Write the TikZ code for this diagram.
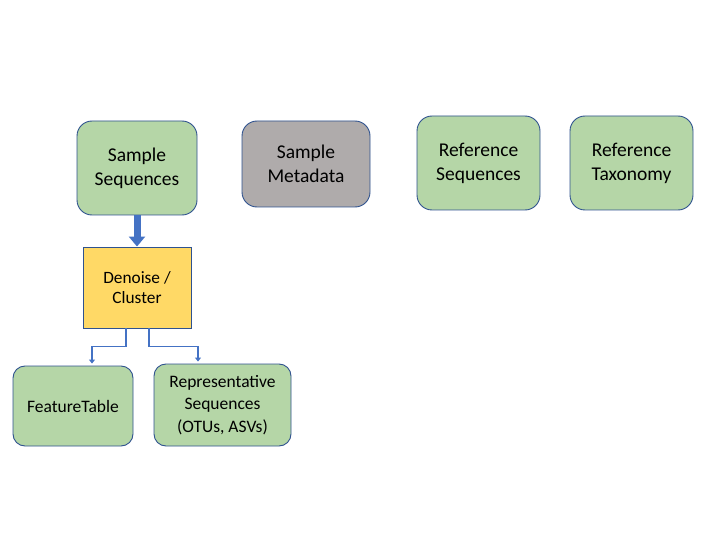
\documentclass[tikz,border=0pt]{standalone}
\usepackage{fontspec}
\setmainfont{Carlito}
\usetikzlibrary{arrows.meta}
\definecolor{boxgreen}{HTML}{B5D6A7}
\definecolor{boxgray}{HTML}{AFABAB}
\definecolor{boxyellow}{HTML}{FFD966}
\definecolor{edgeblue}{HTML}{2F528F}
\definecolor{arrowblue}{HTML}{4472C4}
\tikzset{
  rbox/.style={draw=edgeblue, line width=0.9pt, rounded corners=15pt, align=center, inner sep=0pt, font=\fontsize{19.5}{24}\selectfont},
  smallbox/.style={rbox, rounded corners=12pt, font=\fontsize{17.5}{22.5}\selectfont},
  procbox/.style={draw=edgeblue, line width=0.9pt, fill=boxyellow, align=center, inner sep=0pt, font=\fontsize{17.3}{20.5}\selectfont},
  bigarrow/.style={draw=arrowblue, line width=7pt, -{Triangle[width=16pt,length=10pt]}},
  thinarrow/.style={draw=arrowblue, line width=1.5pt, -{Triangle[width=6pt,length=4pt]}}
}
\begin{document}
\begin{tikzpicture}
\useasboundingbox (0,0) rectangle (720pt,-540pt);
\node[rbox, fill=boxgreen, minimum width=120pt, minimum height=94pt] (ss) at (137pt,-168pt) {Sample\\Sequences};
\node[rbox, fill=boxgray, minimum width=128pt, minimum height=86pt] (sm) at (306pt,-164pt) {Sample\\Metadata};
\node[rbox, fill=boxgreen, minimum width=123pt, minimum height=94pt] (rs) at (478.5pt,-163pt) {Reference\\Sequences};
\node[rbox, fill=boxgreen, minimum width=123pt, minimum height=94pt] (rt) at (631.5pt,-163pt) {Reference\\Taxonomy};
\node[procbox, minimum width=108pt, minimum height=81pt] (dn) at (137pt,-287.5pt) {Denoise /\\Cluster};
\node[smallbox, fill=boxgreen, minimum width=120pt, minimum height=80pt] (ft) at (73pt,-406pt) {FeatureTable};
\node[smallbox, fill=boxgreen, minimum width=137pt, minimum height=82pt] (rep) at (222.5pt,-405pt) {Representative\\Sequences\\(OTUs, ASVs)};
\draw[bigarrow] (ss.south) -- (dn.north);
\draw[thinarrow] ([xshift=-11pt]dn.south) -- ++(0,-18pt) -| ([xshift=19pt,yshift=2pt]ft.north);
\draw[thinarrow] ([xshift=12pt]dn.south) -- ++(0,-18pt) -| ([xshift=-24.5pt,yshift=2pt]rep.north);
\end{tikzpicture}
\end{document}
